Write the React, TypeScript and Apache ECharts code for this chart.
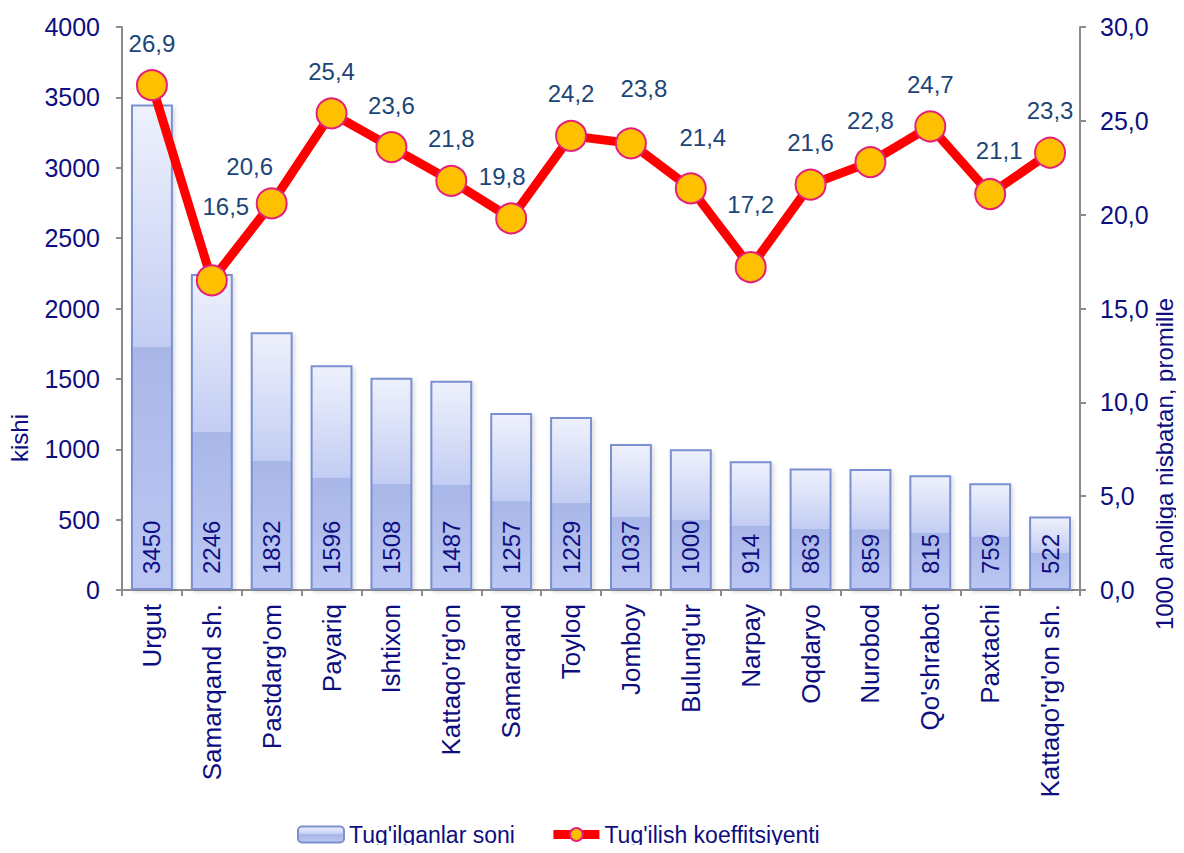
import React, { useEffect, useRef } from "react";
import * as echarts from "echarts";

const categories = [
  "Urgut", "Samarqand sh.", "Pastdarg'om", "Payariq", "Ishtixon", "Kattaqo'rg'on",
  "Samarqand", "Toyloq", "Jomboy", "Bulung'ur", "Narpay", "Oqdaryo", "Nurobod",
  "Qo'shrabot", "Paxtachi", "Kattaqo'rg'on sh.",
];
const births = [3450, 2246, 1832, 1596, 1508, 1487, 1257, 1229, 1037, 1000, 914, 863, 859, 815, 759, 522];
const rate = [26.9, 16.5, 20.6, 25.4, 23.6, 21.8, 19.8, 24.2, 23.8, 21.4, 17.2, 21.6, 22.8, 24.7, 21.1, 23.3];
// manual label nudges (Excel-like placement)
const labelOffsets: [number, number][] = [
  [0, 0], [14, -32], [-22, 5], [0, 0], [0, 0], [0, 0], [-9, 0], [0, 0],
  [13, -13], [12, -9], [0, -21], [0, 0], [0, 0], [0, 0], [9, -2], [0, 0],
];
const leftTicks = { min: 0, max: 4000, interval: 500 };
const rightTicks = { min: 0, max: 30, interval: 5 };

const NAVY = "#0E0E80";
const LBL = "#1B4677";
const FONT = "'Liberation Sans', Arial, sans-serif";
const AXIS_GRAY = "#8C8C8C";
const fmt = (v: number) => v.toFixed(1).replace(".", ",");

export default function App() {
  const ref = useRef<HTMLDivElement>(null);
  useEffect(() => {
    if (!ref.current) return;
    const chart = echarts.init(ref.current, null, { renderer: "svg" });
    const barGrad = new echarts.graphic.LinearGradient(0, 0, 0, 1, [
      { offset: 0, color: "#EEF1FC" },
      { offset: 0.499, color: "#C3CDF3" },
      { offset: 0.5, color: "#A9B7E8" },
      { offset: 1, color: "#BCC8F3" },
    ]);
    chart.setOption({
      animation: false,
      textStyle: { fontFamily: FONT },
      grid: { left: 122, right: 104, top: 27, bottom: 263, containLabel: false },
      legend: {
        top: 818,
        left: 292,
        itemWidth: 46,
        itemHeight: 16,
        itemGap: 34,
        textStyle: { color: NAVY, fontSize: 23, fontFamily: FONT },
        data: [
          { name: "Tug'ilganlar soni" },
          { name: "Tug'ilish koeffitsiyenti", lineStyle: { width: 9 } },
        ],
      },
      xAxis: {
        type: "category",
        data: categories,
        axisLine: { lineStyle: { color: AXIS_GRAY, width: 2 } },
        axisTick: { show: true, length: 6, lineStyle: { color: AXIS_GRAY, width: 2 } },
        axisLabel: { rotate: 90, interval: 0, color: NAVY, fontSize: 26, margin: 14, fontFamily: FONT },
      },
      yAxis: [
        {
          type: "value",
          ...leftTicks,
          axisLine: { show: true, lineStyle: { color: AXIS_GRAY, width: 2 } },
          axisTick: { show: true, length: 6, lineStyle: { color: AXIS_GRAY, width: 2 } },
          axisLabel: { color: NAVY, fontSize: 25, margin: 22, fontFamily: FONT, formatter: (v: number) => String(v) },
          splitLine: { show: false },
        },
        {
          type: "value",
          ...rightTicks,
          position: "right",
          axisLine: { show: true, lineStyle: { color: AXIS_GRAY, width: 2 } },
          axisTick: { show: true, length: 6, lineStyle: { color: AXIS_GRAY, width: 2 } },
          axisLabel: { color: NAVY, fontSize: 25, margin: 20, fontFamily: FONT, formatter: (v: number) => fmt(v) },
          splitLine: { show: false },
        },
      ],
      graphic: [
        {
          type: "text",
          x: 19,
          y: 438,
          rotation: Math.PI / 2,
          style: { text: "kishi", fill: NAVY, fontSize: 24, fontFamily: FONT, textAlign: "center", textVerticalAlign: "middle" },
        },
        {
          type: "text",
          x: 1164,
          y: 464,
          rotation: Math.PI / 2,
          style: {
            text: "1000 aholiga nisbatan, promille",
            fill: NAVY,
            fontSize: 24,
            fontFamily: FONT,
            textAlign: "center",
            textVerticalAlign: "middle",
          },
        },
      ],
      series: [
        {
          name: "Tug'ilganlar soni",
          type: "bar",
          data: births,
          barWidth: "70%",
          itemStyle: {
            color: barGrad,
            borderColor: "#7A90D2",
            borderWidth: 2,
            shadowColor: "rgba(0,0,0,0.15)",
            shadowBlur: 4,
            shadowOffsetX: 2,
            shadowOffsetY: 2,
          },
          label: {
            show: true,
            position: "insideBottom",
            rotate: 90,
            align: "left",
            verticalAlign: "middle",
            distance: 16,
            color: NAVY,
            fontSize: 24,
            fontFamily: FONT,
          },
        },
        {
          name: "Tug'ilish koeffitsiyenti",
          type: "line",
          yAxisIndex: 1,
          z: 5,
          data: rate.map((v, i) => ({
            value: v,
            label: { offset: labelOffsets[i] },
          })),
          symbol: "circle",
          symbolSize: 30,
          lineStyle: { color: "#FF0000", width: 9 },
          itemStyle: { color: "#FFC000", borderColor: "#E5207A", borderWidth: 2 },
          label: {
            show: true,
            position: "top",
            distance: 14,
            color: LBL,
            fontSize: 24,
            fontFamily: FONT,
            formatter: (p: any) => fmt(p.value),
          },
        },
      ],
    });
    return () => chart.dispose();
  }, []);
  return <div ref={ref} style={{ width: 1184, height: 853, margin: -8 }} />;
}
